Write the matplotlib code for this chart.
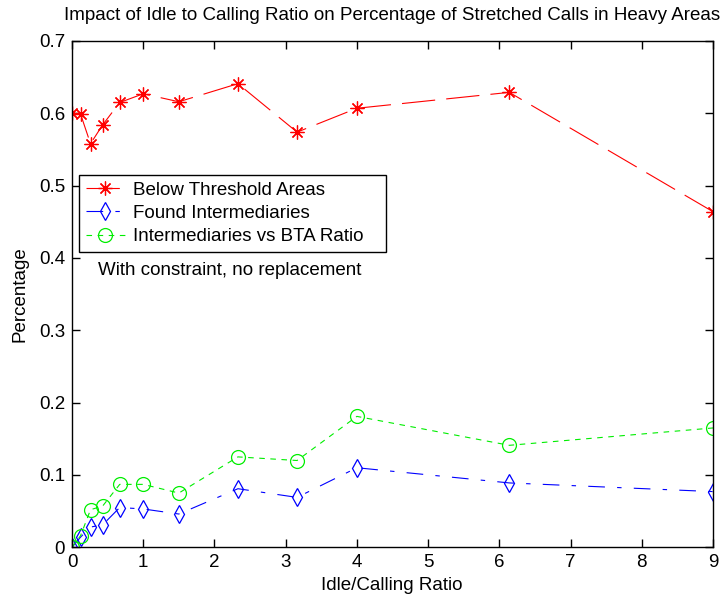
import matplotlib
matplotlib.use("Agg")
import matplotlib.pyplot as plt
from matplotlib.ticker import FuncFormatter

plt.rcParams["font.family"] = ["Liberation Sans", "DejaVu Sans"]
plt.rcParams["font.size"] = 13.5

# data
ratio = [0, 0.12, 0.26, 0.43, 0.67, 1.0, 1.5, 2.33, 3.16, 4.0, 6.14, 9.0]
below_threshold = [0.600, 0.599, 0.558, 0.584, 0.615, 0.627, 0.616, 0.641,
                   0.574, 0.607, 0.629, 0.464]
found_intermediaries = [0.0, 0.014, 0.028, 0.031, 0.055, 0.053, 0.046, 0.081,
                        0.069, 0.110, 0.089, 0.077]
intermediaries_vs_bta = [0.0, 0.016, 0.052, 0.057, 0.087, 0.087, 0.075, 0.125,
                         0.120, 0.181, 0.141, 0.165]
labels = ["Below Threshold Areas", "Found Intermediaries",
          "Intermediaries vs BTA Ratio"]

FS = 13.5

fig = plt.figure(figsize=(7.28, 6.04), dpi=100)
ax = fig.add_axes([72 / 728, 1 - 547.3 / 604, 641 / 728, 506.3 / 604])

ax.plot(ratio, below_threshold, color="red", linewidth=0.8,
        dashes=(30, 10), marker=(8, 2, 0), markersize=10,
        markeredgewidth=0.9, label=labels[0])
ax.plot(ratio, found_intermediaries, color="blue", linewidth=0.8,
        dashes=(15, 11, 4, 11), marker="d", markersize=9,
        markerfacecolor="none", markeredgewidth=0.9, label=labels[1])
ax.plot(ratio, intermediaries_vs_bta, color="#00ee00", linewidth=0.8,
        dashes=(5, 5), marker="o", markersize=10,
        markerfacecolor="none", markeredgewidth=0.9, label=labels[2])

ax.set_xlim(0, 9)
ax.set_ylim(0, 0.7)
ax.set_xticks(range(0, 10))
ax.set_yticks([i / 10 for i in range(8)])
ax.yaxis.set_major_formatter(FuncFormatter(lambda v, _: "0" if v == 0 else f"{v:.1f}"))
ax.tick_params(direction="in", top=True, right=True, length=6, width=1,
               pad=5, labelsize=FS)
for sp in ax.spines.values():
    sp.set_linewidth(1.0)

fig.text(392 / 728, 1 - 16 / 604,
         "Impact of Idle to Calling Ratio on Percentage of Stretched Calls in Heavy Areas",
         ha="center", va="center", fontsize=FS)
fig.text(392 / 728, 1 - 585 / 604, "Idle/Calling Ratio",
         ha="center", va="center", fontsize=FS)
fig.text(20 / 728, 1 - 294 / 604, "Percentage", rotation=90,
         ha="center", va="center", fontsize=FS)

# legend box spans x 79..386 px, top at 175 px
leg_top = (547.3 - 175) / 506.3
leg = ax.legend(loc="upper left",
                bbox_to_anchor=(7 / 641, leg_top - 0.2, 307 / 641, 0.2),
                mode="expand", borderaxespad=0, fancybox=False, framealpha=1,
                edgecolor="black", handlelength=2.1, handletextpad=0.45,
                labelspacing=0.33, borderpad=0.35, fontsize=FS)
leg.get_frame().set_linewidth(1.0)

ax.text(0.365, 0.383, "With constraint, no replacement", ha="left",
        va="center", fontsize=FS)

fig.savefig("out.png", dpi=100)
